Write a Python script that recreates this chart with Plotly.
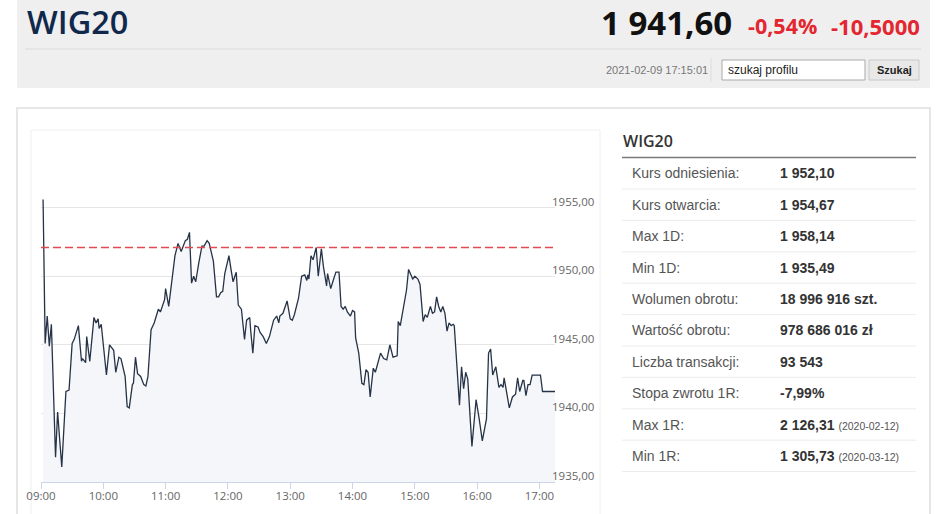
import plotly.graph_objects as go

W, H = 948, 514
# the page is drawn about 15 px in from the left and ~933 px wide in the viewer
OX, PW = 15, 933
DAY = "2021-02-09"
TITLE = "WIG20"
LAST = "1 941,60"
CHANGE_PCT = "-0,54%"
CHANGE_ABS = "-10,5000"
STAMP = "2021-02-09 17:15:01"
REF_PRICE = 1952.10

# intraday quotes
times = [
    "09:02", "09:04", "09:06", "09:08", "09:10", "09:14", "09:16", "09:20", "09:24", "09:27",
    "09:30", "09:32", "09:36", "09:39", "09:40", "09:43", "09:44", "09:47", "09:51", "09:53",
    "09:55", "09:56", "09:58", "10:03", "10:06", "10:10", "10:12", "10:15", "10:17", "10:21",
    "10:23", "10:25", "10:28", "10:29", "10:31", "10:33", "10:36", "10:39", "10:41", "10:43",
    "10:46", "10:49", "10:53", "10:55", "10:59", "11:00", "11:03", "11:06", "11:09", "11:12",
    "11:15", "11:19", "11:21", "11:23", "11:25", "11:27", "11:29", "11:32", "11:35", "11:37",
    "11:40", "11:42", "11:46", "11:49", "11:51", "11:53", "11:55", "11:57", "12:01", "12:03",
    "12:05", "12:08", "12:10", "12:13", "12:15", "12:16", "12:18", "12:21", "12:22", "12:24",
    "12:26", "12:29", "12:31", "12:34", "12:37", "12:40", "12:44", "12:47", "12:49", "12:50",
    "12:53", "12:57", "13:00", "13:02", "13:04", "13:08", "13:11", "13:14", "13:16", "13:17",
    "13:18", "13:20", "13:22", "13:25", "13:27", "13:30", "13:32", "13:35", "13:36", "13:39",
    "13:41", "13:44", "13:47", "13:49", "13:51", "13:53", "13:55", "13:58", "14:00", "14:02",
    "14:03", "14:06", "14:09", "14:11", "14:13", "14:15", "14:17", "14:20", "14:22", "14:27",
    "14:30", "14:33", "14:36", "14:39", "14:43", "14:44", "14:46", "14:49", "14:52", "14:54",
    "14:57", "14:58", "15:00", "15:03", "15:05", "15:07", "15:08", "15:10", "15:12", "15:15",
    "15:17", "15:19", "15:21", "15:23", "15:25", "15:27", "15:29", "15:31", "15:33", "15:35",
    "15:37", "15:38", "15:40", "15:43", "15:45", "15:47", "15:49", "15:51", "15:55", "15:59",
    "16:02", "16:05", "16:09", "16:11", "16:13", "16:15", "16:18", "16:21", "16:23", "16:25",
    "16:26", "16:31", "16:34", "16:37", "16:39", "16:41", "16:44", "16:45", "16:47", "16:49",
    "16:51", "16:53", "17:01", "17:03", "17:15",
]
prices = [
    1955.6, 1945.1, 1947.1, 1944.9, 1946.5, 1936.8, 1940.1, 1936.1, 1941.6, 1941.7,
    1945.1, 1945.4, 1946.4, 1943.8, 1944.0, 1943.7, 1945.6, 1943.8, 1947.0, 1946.6,
    1946.9, 1946.2, 1946.5, 1942.8, 1945.0, 1944.6, 1943.0, 1944.1, 1944.0, 1942.7,
    1940.5, 1940.4, 1942.1, 1942.2, 1944.1, 1942.9, 1942.7, 1942.1, 1942.0, 1942.7,
    1946.1, 1946.6, 1947.6, 1947.4, 1948.3, 1949.1, 1947.8, 1949.5, 1951.5, 1952.4,
    1951.8, 1952.6, 1952.7, 1953.2, 1949.5, 1950.0, 1949.6, 1951.0, 1952.2, 1952.2,
    1952.6, 1952.4, 1951.1, 1948.5, 1948.5, 1948.8, 1948.9, 1950.2, 1951.5, 1950.5,
    1949.6, 1950.3, 1947.9, 1947.6, 1946.1, 1945.4, 1946.8, 1947.0, 1946.0, 1944.4,
    1946.4, 1946.3, 1945.9, 1945.6, 1945.1, 1945.6, 1946.8, 1947.1, 1946.6, 1947.1,
    1947.3, 1948.2, 1946.9, 1946.8, 1947.2, 1948.4, 1950.0, 1950.1, 1949.7, 1950.1,
    1949.8, 1951.5, 1951.2, 1952.1, 1950.0, 1952.0, 1950.7, 1949.3, 1950.2, 1949.1,
    1949.6, 1950.3, 1950.3, 1947.8, 1947.6, 1947.8, 1947.4, 1947.1, 1947.5, 1947.4,
    1945.5, 1944.4, 1942.2, 1942.1, 1943.2, 1943.0, 1941.2, 1943.3, 1943.0, 1944.4,
    1944.0, 1943.9, 1945.0, 1944.1, 1944.2, 1946.7, 1946.4, 1947.6, 1949.0, 1950.5,
    1950.0, 1949.8, 1950.0, 1949.8, 1949.4, 1947.9, 1946.7, 1947.2, 1947.0, 1947.8,
    1947.3, 1947.4, 1948.5, 1947.8, 1947.4, 1947.8, 1947.3, 1946.0, 1946.6, 1946.4,
    1946.5, 1946.4, 1944.1, 1940.6, 1943.4, 1941.8, 1943.0, 1942.5, 1937.6, 1941.0,
    1939.6, 1938.0, 1939.6, 1944.4, 1944.7, 1942.8, 1943.4, 1941.9, 1942.1, 1941.9,
    1942.6, 1940.4, 1941.2, 1941.4, 1942.6, 1941.6, 1942.4, 1942.4, 1941.3, 1942.1,
    1942.1, 1942.8, 1942.8, 1941.6, 1941.6,
]

hour_ticks = ["09:00", "10:00", "11:00", "12:00", "13:00", "14:00", "15:00", "16:00", "17:00"]
y_ticks = [1935, 1940, 1945, 1950, 1955, 1960]
y_labels = ["1935,00", "1940,00", "1945,00", "1950,00", "1955,00", ""]

row_labels = ["Kurs odniesienia:", "Kurs otwarcia:", "Max 1D:", "Min 1D:", "Wolumen obrotu:",
              "Wartość obrotu:", "Liczba transakcji:", "Stopa zwrotu 1R:", "Max 1R:", "Min 1R:"]
row_values = ["1 952,10", "1 954,67", "1 958,14", "1 935,49", "18 996 916 szt.",
              "978 686 016 zł", "93 543", "-7,99%", "2 126,31", "1 305,73"]
row_dates = [None, None, None, None, None, None, None, None, "2020-02-12", "2020-03-12"]


def fx(x):
    return (x - OX) / PW


def fy(y):
    return 1 - y / H


def rect(x0, y0, x1, y1, fill=None, line=None, width=1):
    return dict(type="rect", xref="paper", yref="paper", x0=fx(x0), x1=fx(x1), y0=fy(y1), y1=fy(y0),
                fillcolor=fill or "rgba(0,0,0,0)", line=dict(color=line or "rgba(0,0,0,0)", width=width if line else 0),
                layer="below")


def hline(x0, x1, y, color, width=1):
    return dict(type="line", xref="paper", yref="paper", x0=fx(x0), x1=fx(x1), y0=fy(y), y1=fy(y),
                line=dict(color=color, width=width), layer="below")


def text(x, y, s, size, color, family="Liberation Sans", xanchor="left", weight=None):
    f = dict(size=size, color=color, family=family)
    if weight:
        f["weight"] = weight
    return dict(xref="paper", yref="paper", x=fx(x), y=fy(y), text=s, showarrow=False,
                xanchor=xanchor, yanchor="middle", font=f, borderpad=0)


fig = go.Figure()
fig.add_trace(go.Scatter(
    x=[f"{DAY} {t}" for t in times], y=prices, mode="lines",
    line=dict(color="#263347", width=1.3), fill="tozeroy", fillcolor="#f4f6f9",
    hoverinfo="skip",
))

shapes = [
    # header block
    rect(17, 0, 930, 88, fill="#efefef"),
    hline(25, 921, 49, "#dadada"),
    dict(type="line", xref="paper", yref="paper", x0=fx(711), x1=fx(711), y0=fy(82), y1=fy(58),
         line=dict(color="#dddddd", width=1), layer="below"),
    rect(722, 60, 865, 80, fill="#ffffff", line="#a9a9a9"),
    rect(869, 60, 919, 80, fill="#e8e8e8", line="#c8c8c8"),
    # cards
    rect(17, 108, 930, 530, line="#e6e6e6", width=2),
    rect(31, 130, 600, 530, line="#f0f0f0"),
    # table
    hline(622, 916, 157.5, "#7a7a7a", 1.5),
]
for i in range(len(row_labels)):
    shapes.append(hline(622, 916, 189 + i * 31.4, "#ececec"))
shapes.append(dict(type="line", xref="x domain", yref="y", x0=0, x1=1, y0=REF_PRICE, y1=REF_PRICE,
                   line=dict(color="#e04a50", width=1.4, dash="8px,4px")))

ann = [
    text(26, 22, TITLE, 32.5, "#10284b", family="Open Sans", weight=600),
    text(733, 22.5, f"<b>{LAST}</b>", 33, "#111111", family="Open Sans", xanchor="right"),
    text(818, 25.5, f"<b>{CHANGE_PCT}</b>", 21.5, "#e3262f", family="Open Sans", xanchor="right"),
    text(921, 25.5, f"<b>{CHANGE_ABS}</b>", 22, "#e3262f", family="Open Sans", xanchor="right"),
    text(605, 70, STAMP, 11, "#777777"),
    text(727, 70, "szukaj profilu", 12, "#222222"),
    text(894, 70.5, "<b>Szukaj</b>", 11, "#222222", xanchor="center"),
    text(622, 141, TITLE, 16, "#333333", family="Open Sans", weight=600),
]
for i, (lab, val, d) in enumerate(zip(row_labels, row_values, row_dates)):
    yy = 173.3 + i * 31.4
    ann.append(text(631, yy, lab, 14, "#555555"))
    s = f"<b>{val}</b>"
    if d:
        s += f" <span style='font-size:10.5px;color:#555555'>({d})</span>"
    ann.append(text(779, yy, s, 14, "#333333"))
for v, lab in zip(y_ticks, y_labels):
    if lab:
        ann.append(dict(xref="paper", yref="y", x=fx(551), y=v, text=lab, showarrow=False,
                        xanchor="left", yanchor="middle", yshift=6.5, borderpad=0,
                        font=dict(family="Open Sans", size=11.5, color="#666666")))

fig.update_layout(
    width=W, height=H, autosize=False, margin=dict(l=0, r=0, t=0, b=0),
    paper_bgcolor="#ffffff", plot_bgcolor="rgba(0,0,0,0)",
    showlegend=False, shapes=shapes, annotations=ann,
    xaxis=dict(
        domain=[fx(41), fx(555)], type="date",
        range=[f"{DAY} 09:00", f"{DAY} 17:15"],
        tickvals=[f"{DAY} {t}" for t in hour_ticks], ticktext=hour_ticks,
        showgrid=False, showline=True, linecolor="#ccd6eb", linewidth=1,
        ticks="outside", ticklen=6, tickcolor="#ccd6eb", ticklabelstandoff=-3,
        tickfont=dict(family="Open Sans", size=11.5, color="#666666"),
        fixedrange=True,
    ),
    yaxis=dict(
        domain=[fy(482), fy(139)], range=[1935, 1960.01],
        tickvals=y_ticks, showticklabels=False,
        showgrid=True, gridcolor="#e6e6e6", gridwidth=1, zeroline=False,
        fixedrange=True,
    ),
)

fig.write_html(
    "out.html",
    config={"responsive": False, "displayModeBar": False},
    post_script="document.body.style.margin='0';document.body.style.overflow='hidden';",
)
